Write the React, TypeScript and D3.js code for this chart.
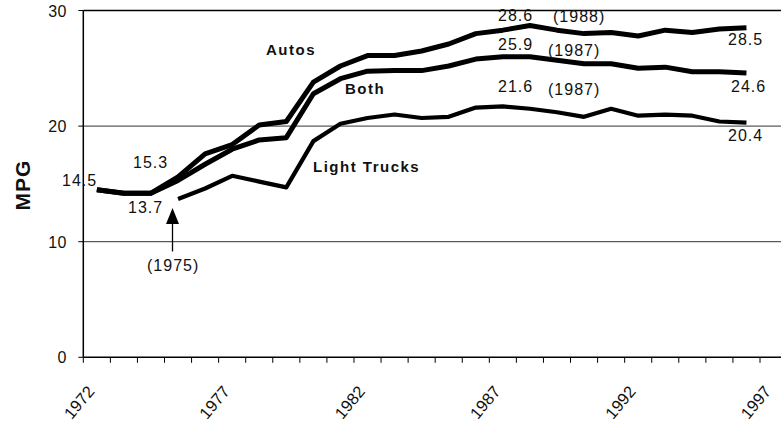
import React from "react";
import * as d3 from "d3";

const years = d3.range(1972, 1997);
const truckYears = d3.range(1975, 1997);
const autos = [14.5, 14.2, 14.2, 15.6, 17.6, 18.4, 20.1, 20.4, 23.8, 25.2, 26.1, 26.1, 26.5, 27.1, 28.0, 28.3, 28.7, 28.3, 28.0, 28.1, 27.8, 28.3, 28.1, 28.4, 28.5];
const both = [14.5, 14.2, 14.2, 15.3, 16.7, 18.0, 18.8, 19.0, 22.8, 24.1, 24.75, 24.8, 24.8, 25.2, 25.8, 26.0, 26.0, 25.7, 25.4, 25.4, 25.0, 25.1, 24.7, 24.7, 24.6];
const trucks = [13.7, 14.6, 15.7, 15.2, 14.7, 18.7, 20.2, 20.7, 21.0, 20.7, 20.8, 21.6, 21.7, 21.5, 21.2, 20.8, 21.5, 20.9, 21.0, 20.9, 20.4, 20.3];
const yTicks = [0, 10, 20, 30];
const xTickYears = d3.range(1972, 1998);
const xLabelYears = [1972, 1977, 1982, 1987, 1992, 1997];

const FONT = "'Liberation Sans', Arial, Helvetica, sans-serif";

export default function App() {
  const x = d3.scaleLinear().domain([1972, 1997]).range([83.3, 760]);
  const y = d3.scaleLinear().domain([0, 30]).range([357.3, 10.5]);
  const left = 83.3;
  const right = 781;

  const line = d3
    .line<[number, number]>()
    .x((d) => x(d[0] + 0.5))
    .y((d) => y(d[1]))
    .curve(d3.curveLinear);

  const autosPath = line(years.map((yr, i) => [yr, autos[i]]));
  const bothPath = line(years.map((yr, i) => [yr, both[i]]));
  const trucksPath = line(truckYears.map((yr, i) => [yr, trucks[i]]));

  const valText = { fontFamily: FONT, fontSize: 16, letterSpacing: 1, fill: "#111" } as const;
  const boldText = { fontFamily: FONT, fontSize: 15, fontWeight: 700, letterSpacing: 1.5, fill: "#111" } as const;

  return (
    <svg width={781} height={425} style={{ position: "absolute", left: 0, top: 0, background: "#fff" }}>
      <rect width={781} height={425} fill="#fff" />
      {/* gridlines */}
      {yTicks.filter((t) => t > 0).map((t) => (
        <line key={t} x1={left} x2={right} y1={y(t)} y2={y(t)} stroke={t === 30 ? "#000" : "#333"} strokeWidth={t === 30 ? 1.5 : 1} />
      ))}
      {/* y axis */}
      <line x1={left} x2={left} y1={y(30)} y2={y(0)} stroke="#000" strokeWidth={1.5} />
      {yTicks.map((t) => (
        <g key={t}>
          <line x1={left - 5} x2={left} y1={y(t)} y2={y(t)} stroke="#000" strokeWidth={1} />
          <text x={67} y={y(t) + 6} textAnchor="end" style={{ fontFamily: FONT, fontSize: 16, letterSpacing: 0.5, fill: "#111" }}>
            {t}
          </text>
        </g>
      ))}
      {/* x axis */}
      <line x1={left} x2={right} y1={y(0)} y2={y(0)} stroke="#000" strokeWidth={1.5} />
      {xTickYears.map((yr) => (
        <line key={yr} x1={x(yr)} x2={x(yr)} y1={y(0)} y2={y(0) + 5.5} stroke="#000" strokeWidth={1} />
      ))}
      {xLabelYears.map((yr) => (
        <text
          key={yr}
          transform={`translate(${x(yr) + 12},392) rotate(-50)`}
          textAnchor="end"
          style={{ fontFamily: FONT, fontSize: 16.5, fill: "#111" }}
        >
          {yr}
        </text>
      ))}
      <text transform="translate(30,185) rotate(-90)" textAnchor="middle" style={{ fontFamily: FONT, fontSize: 21, fontWeight: 700, letterSpacing: 1, fill: "#111" }}>
        MPG
      </text>

      {/* series */}
      <path d={trucksPath || ""} fill="none" stroke="#000" strokeWidth={4.2} strokeLinejoin="round" />
      <path d={bothPath || ""} fill="none" stroke="#000" strokeWidth={5} strokeLinejoin="round" />
      <path d={autosPath || ""} fill="none" stroke="#000" strokeWidth={5} strokeLinejoin="round" />

      {/* series labels */}
      <text x={266} y={55} style={boldText}>Autos</text>
      <text x={345} y={94} style={boldText}>Both</text>
      <text x={313} y={171.5} style={boldText}>Light Trucks</text>

      {/* value labels */}
      <text x={498} y={21} style={valText}>28.6</text>
      <text x={553} y={22} style={valText}>(1988)</text>
      <text x={498} y={50} style={valText}>25.9</text>
      <text x={548} y={55.5} style={valText}>(1987)</text>
      <text x={498} y={92} style={valText}>21.6</text>
      <text x={548} y={94.5} style={valText}>(1987)</text>
      <text x={728} y={45} style={valText}>28.5</text>
      <text x={731} y={92} style={valText}>24.6</text>
      <text x={728} y={141} style={valText}>20.4</text>
      <text x={133} y={168} style={valText}>15.3</text>
      <text x={62} y={186} style={valText}>14.5</text>
      <text x={128} y={212.5} style={valText}>13.7</text>

      {/* 1975 arrow */}
      <line x1={172.5} x2={172.5} y1={251.5} y2={222} stroke="#000" strokeWidth={1.3} />
      <path d="M172.5,208 L166,224 L179,224 Z" fill="#000" />
      <text x={147} y={271} style={valText}>(1975)</text>
    </svg>
  );
}
